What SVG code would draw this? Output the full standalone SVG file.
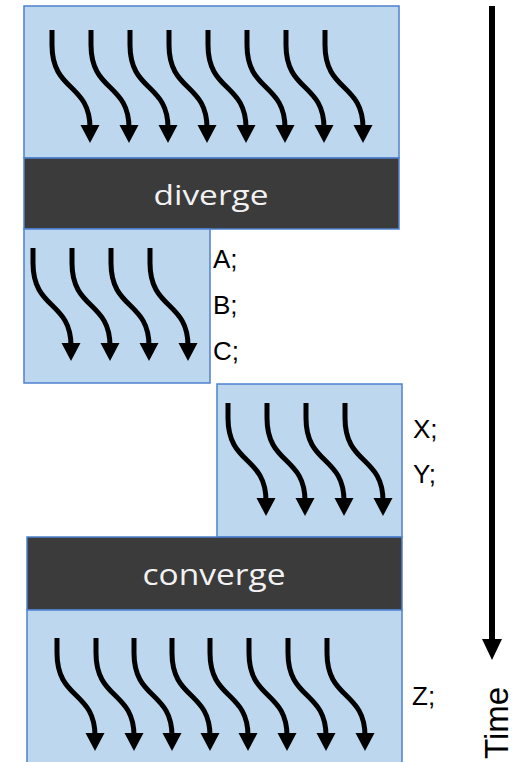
<svg xmlns="http://www.w3.org/2000/svg" xmlns:xlink="http://www.w3.org/1999/xlink" width="517" height="762" viewBox="0 0 517 762">
  <style>
    .box { fill: #bdd7ee; stroke: #4f81cf; stroke-width: 1.5; }
    .bar { fill: #3b3b3b; stroke: #4f81cf; stroke-width: 1.5; }
    .barlabel { font-family: "Open Sans", "Liberation Sans", sans-serif; fill: #f2f2f2; text-anchor: middle; }
    .tag { font-family: "Liberation Sans", Arial, sans-serif; font-size: 26px; fill: #000; }
    .axis { font-family: "Liberation Sans", Arial, sans-serif; font-size: 33px; fill: #000; }
    .wave { fill: none; stroke: #000; stroke-width: 5; }
  </style>
  <defs>
    <!-- one wavy thread: S-curve with a solid head, 113px tall -->
    <g id="thread">
      <path class="wave" d="M0 0 L0 15 C0 62 38 53 38 98"/>
      <polygon points="28.5,95 47.5,95 38,113" fill="#000"/>
    </g>
  </defs>

  <!-- top block with diverge bar -->
  <g id="top-block">
    <rect class="box" x="24" y="6" width="375" height="152"/>
    <use xlink:href="#thread" x="52" y="30"/>
    <use xlink:href="#thread" x="91" y="30"/>
    <use xlink:href="#thread" x="130" y="30"/>
    <use xlink:href="#thread" x="169" y="30"/>
    <use xlink:href="#thread" x="208" y="30"/>
    <use xlink:href="#thread" x="247" y="30"/>
    <use xlink:href="#thread" x="286" y="30"/>
    <use xlink:href="#thread" x="325" y="30"/>
  </g>
  <g id="diverge">
    <rect class="bar" x="24" y="158" width="375" height="71"/>
    <text class="barlabel" x="211" y="205" font-size="28" textLength="115" lengthAdjust="spacingAndGlyphs">diverge</text>
  </g>

  <!-- branch A/B/C -->
  <g id="branch-abc">
    <rect class="box" x="24" y="229" width="186" height="154"/>
    <use xlink:href="#thread" x="33" y="248"/>
    <use xlink:href="#thread" x="72" y="248"/>
    <use xlink:href="#thread" x="111" y="248"/>
    <use xlink:href="#thread" x="150" y="248"/>
    <text class="tag" x="213" y="268">A;</text>
    <text class="tag" x="213" y="314">B;</text>
    <text class="tag" x="213" y="360">C;</text>
  </g>

  <!-- branch X/Y -->
  <g id="branch-xy">
    <rect class="box" x="217" y="384" width="185" height="153"/>
    <use xlink:href="#thread" x="228" y="403"/>
    <use xlink:href="#thread" x="267" y="403"/>
    <use xlink:href="#thread" x="306" y="403"/>
    <use xlink:href="#thread" x="345" y="403"/>
    <text class="tag" x="413" y="438">X;</text>
    <text class="tag" x="413" y="483">Y;</text>
  </g>

  <!-- converge bar and bottom block -->
  <g id="converge">
    <rect class="bar" x="27" y="537" width="375" height="73"/>
    <text class="barlabel" x="214" y="585" font-size="30" textLength="143" lengthAdjust="spacingAndGlyphs">converge</text>
  </g>
  <g id="bottom-block">
    <rect class="box" x="27" y="610" width="375" height="155"/>
    <use xlink:href="#thread" x="57" y="638"/>
    <use xlink:href="#thread" x="96" y="638"/>
    <use xlink:href="#thread" x="134" y="638"/>
    <use xlink:href="#thread" x="172" y="638"/>
    <use xlink:href="#thread" x="210" y="638"/>
    <use xlink:href="#thread" x="249" y="638"/>
    <use xlink:href="#thread" x="288" y="638"/>
    <use xlink:href="#thread" x="327" y="638"/>
    <text class="tag" x="412" y="705">Z;</text>
  </g>

  <!-- time axis -->
  <g id="connectors">
    <line x1="492" y1="6" x2="492" y2="642" stroke="#000" stroke-width="6"/>
    <polygon points="482,639 502,639 492,660" fill="#000"/>
  </g>
  <g id="time-label">
    <text class="axis" transform="translate(508 759) rotate(-90)">Time</text>
  </g>
</svg>
